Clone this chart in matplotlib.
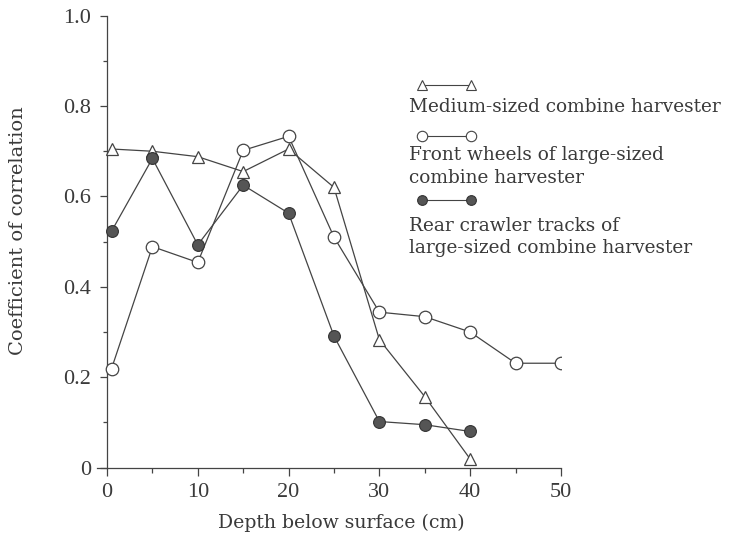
import matplotlib
matplotlib.use('Agg')
import matplotlib.pyplot as plt
from matplotlib.lines import Line2D

plt.rcParams['font.family'] = ['Liberation Serif', 'DejaVu Serif']
TEXT_FONT = ['DejaVu Serif']

# depth below surface (cm)
depth = [0.5, 5, 10, 15, 20, 25, 30, 35, 40]
depth_front = [0.5, 5, 10, 15, 20, 25, 30, 35, 40, 45, 50]

# coefficient of correlation
medium = [0.705, 0.70, 0.688, 0.655, 0.705, 0.62, 0.283, 0.157, 0.019]
front_wheels = [0.219, 0.489, 0.454, 0.702, 0.733, 0.51, 0.344, 0.334, 0.30, 0.231, 0.231]
rear_tracks = [0.523, 0.684, 0.493, 0.625, 0.563, 0.291, 0.102, 0.095, 0.08]

labels = [['Medium-sized combine harvester'],
          ['Front wheels of large-sized', 'combine harvester'],
          ['Rear crawler tracks of', 'large-sized combine harvester']]

INK = '#444444'
TXT = '#3a3a3a'

fig = plt.figure(figsize=(7.32, 5.4), dpi=100)
ax = fig.add_axes([97 / 732, 0.134, 464 / 732, 0.837])

ax.plot(depth, medium, color=INK, lw=0.9, marker='^', ms=8,
        mfc='white', mec=INK, mew=0.9, zorder=3)
ax.plot(depth_front, front_wheels, color=INK, lw=0.9, marker='o', ms=9,
        mfc='white', mec=INK, mew=0.9, zorder=3)
ax.plot(depth, rear_tracks, color=INK, lw=0.9, marker='o', ms=8.5,
        mfc='#555555', mec='#333333', mew=0.8, zorder=4)

ax.set_xlim(-1.1, 50)
ax.set_ylim(0, 1.0)
ax.spines['left'].set_position(('data', 0))
ax.spines['top'].set_visible(False)
ax.spines['right'].set_visible(False)
for s in ('left', 'bottom'):
    ax.spines[s].set_color(INK)
    ax.spines[s].set_linewidth(0.9)

ax.set_xticks([0, 10, 20, 30, 40, 50])
ax.set_xticks([5, 15, 25, 35, 45], minor=True)
ax.set_yticks([0, 0.2, 0.4, 0.6, 0.8, 1.0])
ax.set_yticklabels(['0', '0.2', '0.4', '0.6', '0.8', '1.0'])
ax.set_yticks([0.1, 0.3, 0.5, 0.7, 0.9], minor=True)
ax.tick_params(axis='both', which='both', width=0.9, color=INK,
               labelsize=16, labelcolor=TXT)
ax.tick_params(axis='x', which='major', length=5.8, pad=5)
ax.tick_params(axis='x', which='minor', length=3.6)
ax.tick_params(axis='y', which='major', length=5, pad=6.5)
ax.tick_params(axis='y', which='minor', length=2.6)

fig.text(341 / 732, 1 - 523 / 540, 'Depth below surface (cm)', ha='center',
         va='center', fontsize=13.6, color=TXT, family=TEXT_FONT)
fig.text(18 / 732, 1 - 231 / 540, 'Coefficient of correlation', ha='center',
         va='center', rotation=90, fontsize=14, color=TXT, family=TEXT_FONT)

# legend drawn by hand, marker sample above each label
def px(x, y):
    return x / 732, 1 - y / 540

samples = [
    dict(marker='^', ms=7, mfc='white', mec=INK, y=85),
    dict(marker='o', ms=7.5, mfc='white', mec=INK, y=136),
    dict(marker='o', ms=7, mfc='#555555', mec='#333333', y=200),
]
label_y = [[107], [155, 178], [226, 248]]
for smp, lines, ys in zip(samples, labels, label_y):
    x0, y0 = px(422, smp['y'])
    x1, _ = px(471, smp['y'])
    fig.add_artist(Line2D([x0, x1], [y0, y0], transform=fig.transFigure,
                          color=INK, lw=0.8, marker=smp['marker'], ms=smp['ms'],
                          mfc=smp['mfc'], mec=smp['mec'], mew=0.8))
    for line, ly in zip(lines, ys):
        tx, ty = px(409, ly)
        fig.text(tx, ty, line, ha='left', va='center', fontsize=13.3,
                 color=TXT, family=TEXT_FONT)

fig.savefig('out.png', dpi=100)
